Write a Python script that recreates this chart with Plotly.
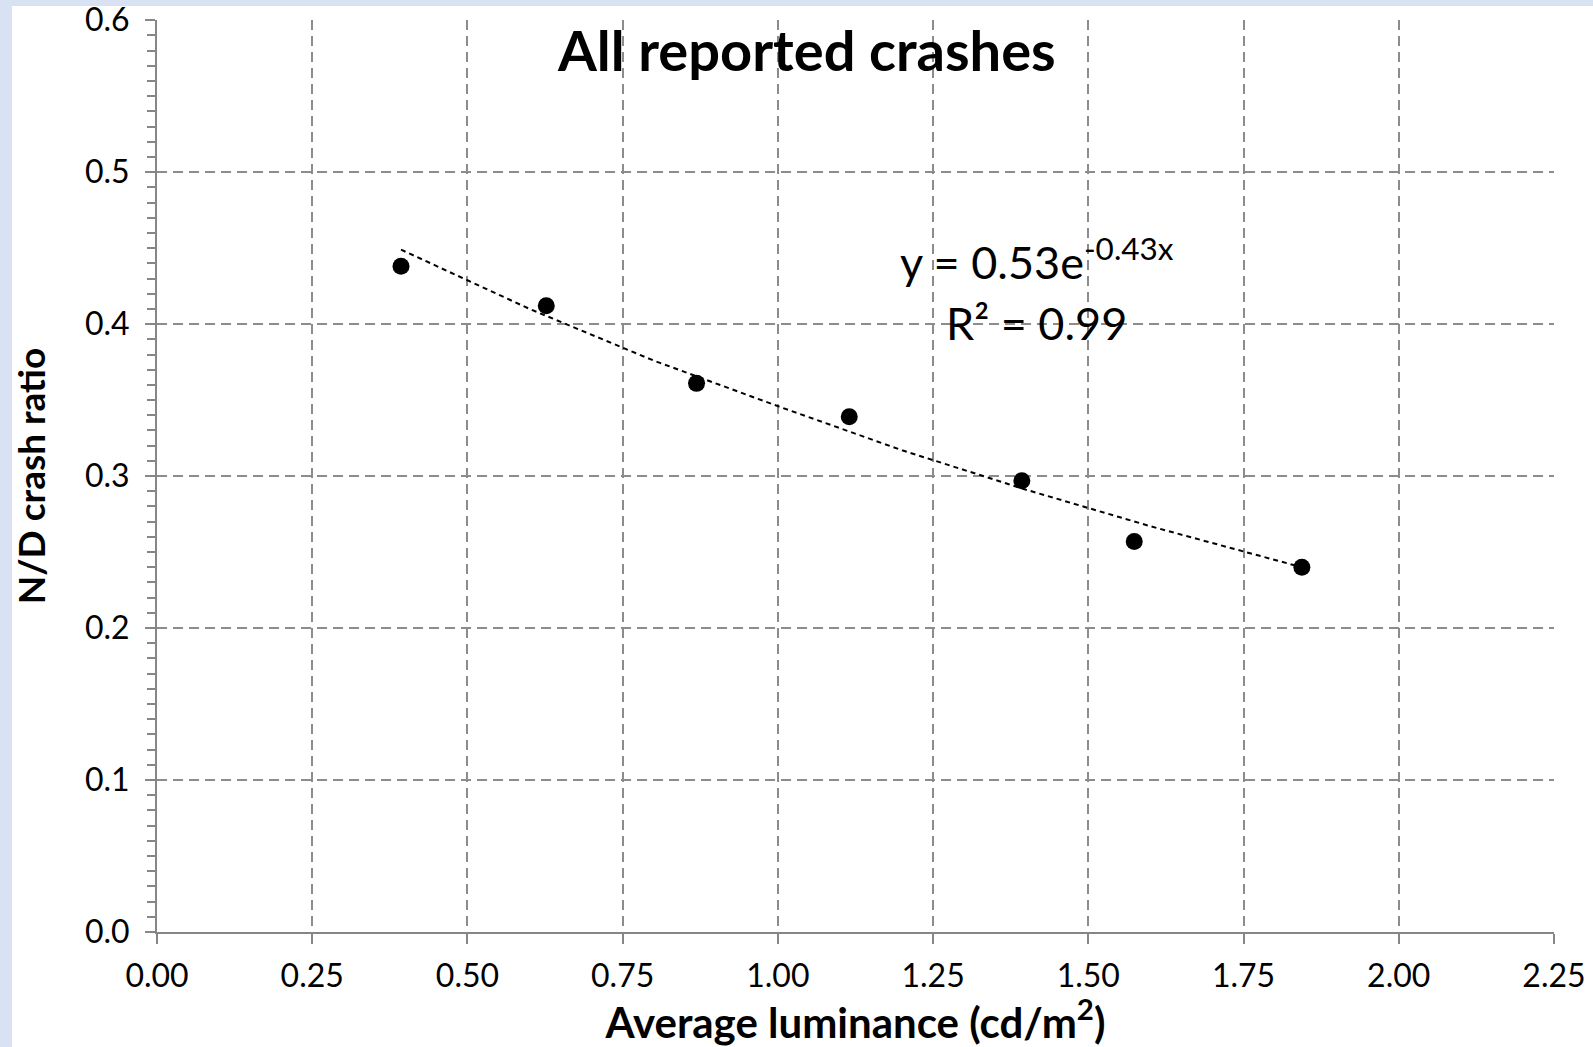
import plotly.graph_objects as go

# Data
luminance = [0.393, 0.627, 0.869, 1.115, 1.393, 1.574, 1.844]
nd_ratio = [0.438, 0.412, 0.361, 0.339, 0.297, 0.257, 0.240]

# Exponential trend line points
trend_x = [0.393, 0.60, 0.80, 1.00, 1.20, 1.40, 1.60, 1.844]
trend_y = [0.449, 0.410, 0.376, 0.346, 0.317, 0.291, 0.267, 0.240]

x_ticks = [0.00, 0.25, 0.50, 0.75, 1.00, 1.25, 1.50, 1.75, 2.00, 2.25]
x_tick_labels = ["0.00", "0.25", "0.50", "0.75", "1.00", "1.25", "1.50", "1.75", "2.00", "2.25"]
y_ticks = [0.0, 0.1, 0.2, 0.3, 0.4, 0.5, 0.6]
y_tick_labels = ["0.0", "0.1", "0.2", "0.3", "0.4", "0.5", "0.6"]

title_text = "All reported crashes"
eq_text = "y = 0.53e<sup>-0.43x</sup>"
r2_text = "R² = 0.99"

W, H = 1593, 1047
L, R, T, B = 157, 39, 20, 115
pw, ph = W - L - R, H - T - B

FONT = "Lato"
GRID = "#8c8c8c"
AXIS = "#868686"

fig = go.Figure()
fig.add_trace(go.Scatter(x=trend_x, y=trend_y, mode="lines",
                         line=dict(color="black", width=2, dash="5px,4px"),
                         hoverinfo="skip", showlegend=False))
fig.add_trace(go.Scatter(x=luminance, y=nd_ratio, mode="markers",
                         marker=dict(color="black", size=17),
                         showlegend=False))

def px2paper_x(p):
    return (p - L) / pw

def px2paper_y(p):
    return (H - B - p) / ph

# white panel over light-blue page border
fig.add_shape(type="rect", xref="paper", yref="paper",
              x0=px2paper_x(12), x1=px2paper_x(W + 5),
              y0=px2paper_y(H + 5), y1=px2paper_y(6),
              fillcolor="white", line=dict(width=0), layer="below")

fig.add_annotation(text=title_text, xref="paper", yref="paper",
                   x=px2paper_x(806), y=px2paper_y(49), showarrow=False,
                   font=dict(family=FONT, size=56, color="black", weight="bold"),
                   xanchor="center", yanchor="middle")
fig.add_annotation(text=eq_text, xref="x", yref="y", x=1.418, y=0.443,
                   showarrow=False, xanchor="center", yanchor="middle",
                   font=dict(family=FONT, size=45, color="black"))
fig.add_annotation(text=r2_text, xref="x", yref="y", x=1.417, y=0.401,
                   showarrow=False, xanchor="center", yanchor="middle",
                   font=dict(family=FONT, size=45, color="black"))

fig.update_layout(
    width=W, height=H,
    margin=dict(l=L, r=R, t=T, b=B, autoexpand=False),
    paper_bgcolor="#d9e2f3",
    plot_bgcolor="rgba(0,0,0,0)",
    font=dict(family=FONT, color="black"),
    xaxis=dict(range=[0, 2.2501], tickvals=x_ticks, ticktext=x_tick_labels,
               showgrid=True, gridcolor=GRID, griddash="10px,6px", gridwidth=2,
               showline=True, linecolor=AXIS, linewidth=2,
               ticks="outside", ticklen=10, tickwidth=2, tickcolor=AXIS,
               ticklabelstandoff=5, ticklabeloverflow="allow",
               tickfont=dict(size=32, family=FONT), zeroline=False,
               title=dict(text="Average luminance (cd/m<sup>2</sup>)",
                          font=dict(size=42, family=FONT, weight="bold"),
                          standoff=20)),
    yaxis=dict(range=[0, 0.6001], tickvals=y_ticks, ticktext=y_tick_labels,
               showgrid=True, gridcolor=GRID, griddash="10px,6px", gridwidth=2,
               showline=True, linecolor=AXIS, linewidth=2,
               ticks="outside", ticklen=10, tickwidth=2, tickcolor=AXIS,
               ticklabelstandoff=9, ticklabeloverflow="allow",
               tickfont=dict(size=32, family=FONT), zeroline=False,
               minor=dict(dtick=0.01, tick0=0, ticks="outside", ticklen=8,
                          tickwidth=2, tickcolor=AXIS, showgrid=False),
               title=dict(text="N/D crash ratio",
                          font=dict(size=37, family=FONT, weight="bold"),
                          standoff=28)),
)

fig.write_html("out.html")
